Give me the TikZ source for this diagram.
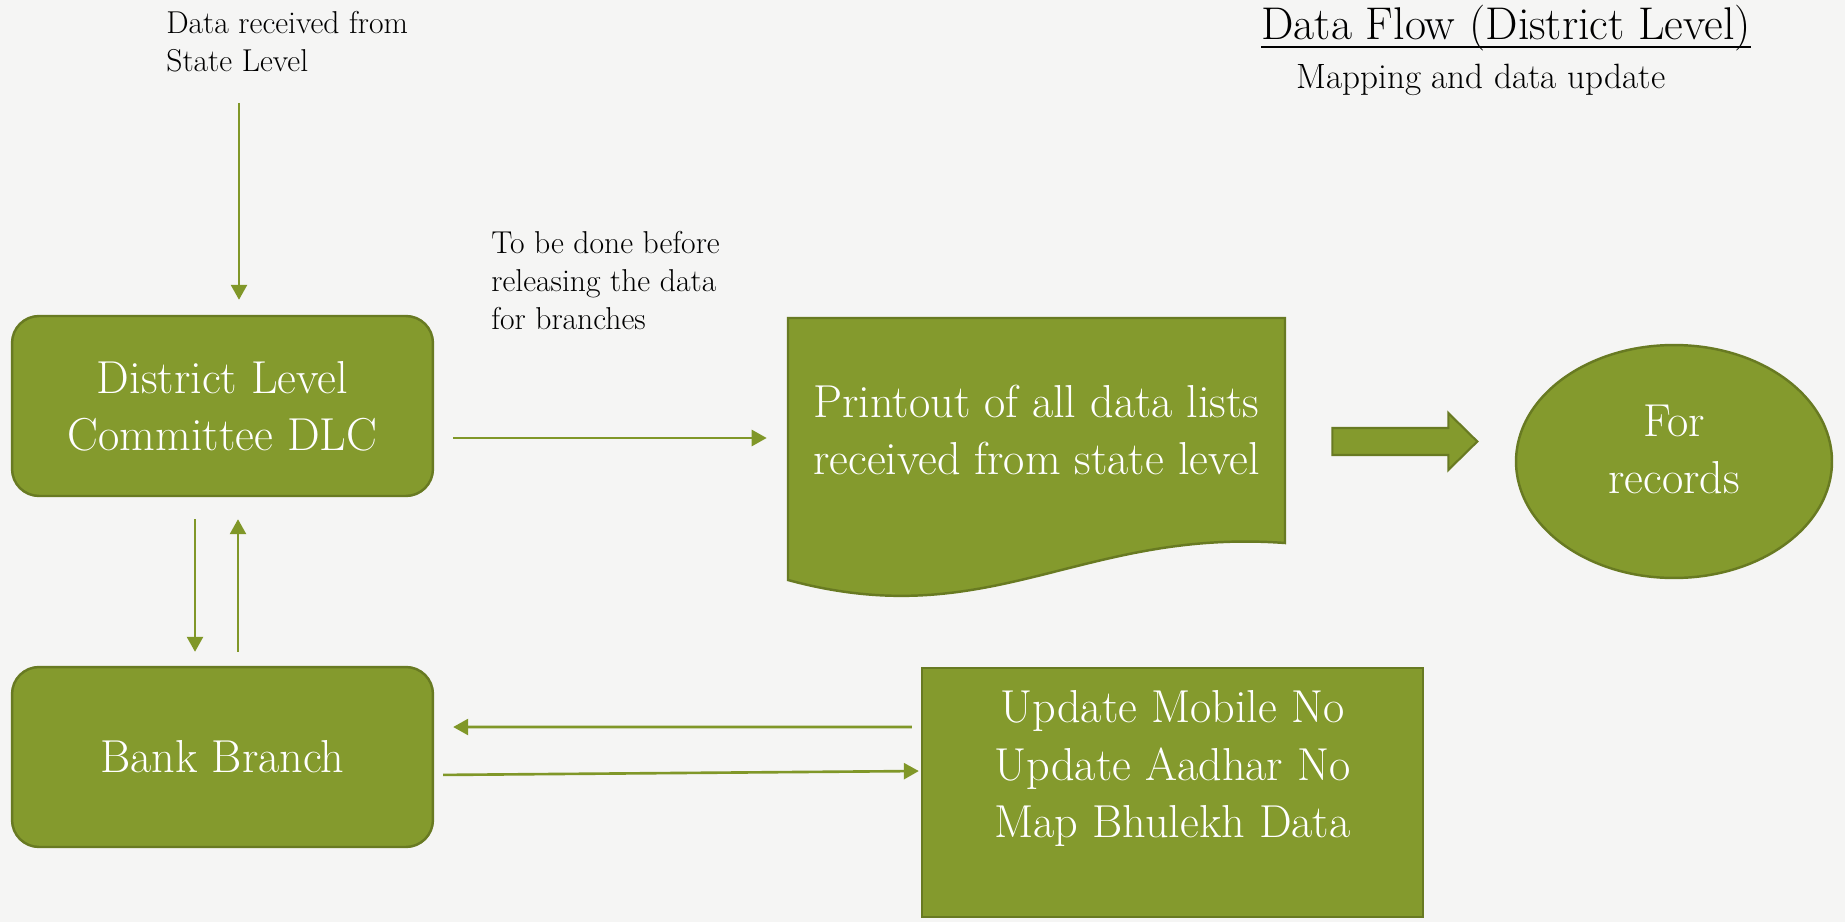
\documentclass[tikz,border=0pt]{standalone}
\usepackage{fontspec}
\usetikzlibrary{arrows.meta,shapes.geometric}
\definecolor{dlcgreen}{RGB}{132,154,45}
\definecolor{dlcedge}{RGB}{104,122,34}
\definecolor{dlcarrow}{RGB}{128,151,40}
\definecolor{dlcpaper}{RGB}{245,245,244}
\tikzset{
  boxfont/.style={font=\fontsize{26.3}{32.5}\selectfont},
  greenbox/.style={fill=dlcgreen, draw=dlcedge, line width=1.4pt, text=white, align=center, boxfont},
  roundbox/.style={greenbox, rounded corners=0.54cm, minimum width=8.42cm, minimum height=3.6cm},
  flow/.style={draw=dlcarrow, line width=1.5pt, -{Triangle[length=0.3cm,width=0.32cm]}},
  note/.style={align=left, inner sep=0pt, font=\fontsize{18}{21.6}\selectfont},
}
\begin{document}
\begin{tikzpicture}[x=0.02cm, y=-0.02cm]
    \fill[dlcpaper] (0,0) rectangle (1845,922);
    \useasboundingbox (0,0) rectangle (1845,922);
    \node[anchor=base west, inner sep=0pt, font=\fontsize{26.1}{30}\selectfont] (title) at (1261,40) {Data Flow (District Level)};
    \draw[line width=1.3pt] ([yshift=-4pt]title.base west) -- ([yshift=-4pt]title.base east);
    \node[anchor=base west, inner sep=0pt, font=\fontsize{20}{24}\selectfont] (subtitle) at (1296,89) {Mapping and data update};
    \node[note, anchor=north west] (recv) at (166,11) {Data received from\\State Level};
    \node[note, anchor=north west] (before) at (491,231) {To be done before\\releasing the data\\for branches};
    \node[roundbox] (dlc) at (222.5,406) {District Level\\Committee DLC};
    \node[roundbox] (bank) at (222.5,757) {Bank Branch};
    \draw[dlcedge, line width=1.4pt, fill=dlcgreen] (788,318) -- (1285,318) -- (1285,543) .. controls (1080,528) and (990,635) .. (788,580) -- cycle;
    \node[text=white, align=center, boxfont, minimum width=9.94cm, minimum height=4.8cm] (print) at (1036.5,430) {Printout of all data lists\\received from state level};
    \draw[fill=dlcgreen, draw=dlcedge, line width=1.2pt, shift={(print.east)}] (47,-2) -- (163,-2) -- (163,-17) -- (192,11.5) -- (163,40) -- (163,25) -- (47,25) -- cycle;
    \node[greenbox, ellipse, minimum width=6.32cm, minimum height=4.66cm, inner sep=0pt] (rec) at (1674,461.5) {};
    \node[text=white, align=center, boxfont] (rectext) at ([yshift=0.24cm]rec.center) {For\\records};
    \node[greenbox, minimum width=10.02cm, minimum height=4.98cm] (upd) at (1172.5,792.5) {};
    \node[text=white, align=center, boxfont] (updtext) at ([yshift=0.48cm]upd.center) {Update Mobile No\\Update Aadhar No\\Map Bhulekh Data};
    \coordinate (feed) at (239,103);
    \draw[flow, shorten >=0.3cm] (feed) -- (feed |- dlc.north);
    \draw[flow, shorten <=0.38cm, shorten >=0.42cm] ([yshift=-0.64cm]dlc.east) -- ([yshift=-0.64cm]dlc.east -| print.west);
    \draw[flow, shorten <=0.44cm, shorten >=0.28cm] ([xshift=-0.55cm]dlc.south) -- ([xshift=-0.55cm]bank.north);
    \draw[flow, shorten <=0.28cm, shorten >=0.44cm] ([xshift=0.31cm]bank.north) -- ([xshift=0.31cm]dlc.south);
    \draw[flow, shorten <=0.18cm, shorten >=0.38cm] ([yshift=1.31cm]upd.west) -- ([yshift=0.6cm]bank.east);
    \draw[flow, shorten <=0.18cm, shorten >=0.04cm] ([yshift=-0.36cm]bank.east) -- ([yshift=0.43cm]upd.west);
\end{tikzpicture}
\end{document}
